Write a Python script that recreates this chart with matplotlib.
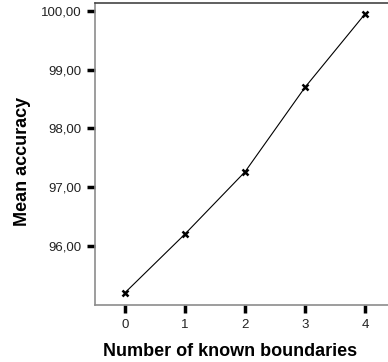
import matplotlib
matplotlib.use('Agg')
import matplotlib.pyplot as plt
from matplotlib.ticker import FuncFormatter

boundaries = [0, 1, 2, 3, 4]
accuracy = [95.20, 96.20, 97.26, 98.70, 99.95]
y_ticks = [96, 97, 98, 99, 100]

plt.rcParams['font.family'] = ['Liberation Sans', 'DejaVu Sans']

fig = plt.figure(figsize=(3.88, 3.62), dpi=100)
ax = fig.add_axes([0.245, 0.1575, 0.773, 0.8355])

ax.plot(boundaries, accuracy, color='black', linewidth=0.8,
        marker='x', markersize=5, markeredgewidth=1.8)

ax.set_xlim(-0.5, 4.5)
ax.set_ylim(94.99, 100.145)
ax.set_xticks(boundaries)
ax.set_yticks(y_ticks)
ax.yaxis.set_major_formatter(FuncFormatter(lambda v, p: ('%.2f' % v).replace('.', ',')))

ax.tick_params(axis='both', direction='out', length=6, width=2.5,
               color='black', labelsize=9.5, labelcolor='#222222', pad=4)

for s in ['left', 'bottom']:
    ax.spines[s].set_color('#8c8c8c')
    ax.spines[s].set_linewidth(1.2)
ax.spines['top'].set_color('#444444')
ax.spines['top'].set_linewidth(1.2)
ax.spines['right'].set_visible(False)

ax.set_xlabel('Number of known boundaries', fontsize=13, fontweight='bold')
ax.set_ylabel('Mean accuracy', fontsize=13, fontweight='bold')
ax.xaxis.set_label_coords(0.45, -0.125)
ax.yaxis.set_label_coords(-0.212, 0.474)

fig.savefig('out.png', dpi=100)
